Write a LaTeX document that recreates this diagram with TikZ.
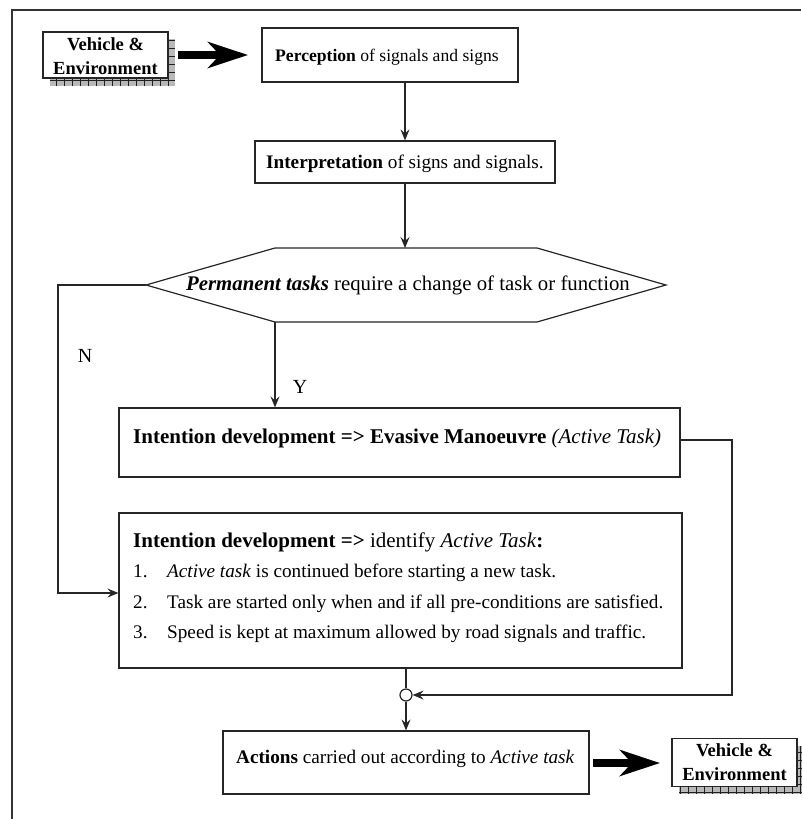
\documentclass[tikz,border=0pt]{standalone}
\usepackage{fontspec}
\setmainfont{Liberation Serif}
\usetikzlibrary{arrows.meta,calc}
\newcommand{\fsz}[1]{\fontsize{#1}{#1}\selectfont}
\begin{document}
\begin{tikzpicture}[x=1pt,y=-1pt,
  font=\fsz{19.2},
  box/.style={draw=black!85, line width=1.2pt, fill=white, inner sep=0pt, rectangle},
  txt/.style={anchor=base west, inner sep=0pt},
  ctxt/.style={anchor=base, inner sep=0pt, font=\fsz{18.5}\bfseries},
  arr/.style={draw=black!85, line width=1.2pt, -{Stealth[length=11pt,width=9pt,inset=4pt]}},
  link/.style={draw=black!85, line width=1.2pt},
  bigarr/.style={draw=black, line width=8pt, -{Stealth[length=40pt,width=26pt,inset=12pt]}},
  shadowfill/.style={fill=gray!55}
]
\useasboundingbox (0,0) rectangle (801,819);
% frame
\draw[black!80, line width=2pt] (12,819) -- (12,10) -- (801,10);

% Vehicle & Environment 1 with shadow
\fill[shadowfill] (50,39) rectangle (175,86);
\draw[gray!25!black, line width=0.4pt, step=8pt] (50,39) grid (175,86);
\node[box, minimum width=125pt, minimum height=46pt] (ve1) at (105.5,55) {};
\node[ctxt] (ve1a) at (105.5,50) {Vehicle \&};
\node[ctxt] (ve1b) at (105.5,74) {Environment};

% Perception
\node[box, minimum width=256pt, minimum height=54pt] (perc) at (390,55) {};
\node[txt, font=\fsz{17.6}] (perct) at (275,61) {\textbf{Perception} of signals and signs};

% Interpretation
\node[box, minimum width=300pt, minimum height=42pt] (interp) at (405,162) {};
\node[txt] (interpt) at (266,168) {\textbf{Interpretation} of signs and signals.};

% Hexagon
\coordinate (hexL) at (146,285);
\coordinate (hexTL) at (275,248);
\coordinate (hexT) at (405,248);
\coordinate (hexTR) at (537,248);
\coordinate (hexR) at (666,285);
\coordinate (hexBR) at (537,322);
\coordinate (hexBL) at (275,322);
\draw[link, fill=white] (hexL) -- (hexTL) -- (hexTR) -- (hexR) -- (hexBR) -- (hexBL) -- cycle;
\node[anchor=base, inner sep=0pt, font=\fsz{20.8}] (hext) at (408,290) {\textbf{\textit{Permanent tasks}} require a change of task or function};

% Intention 1
\node[box, minimum width=561pt, minimum height=69pt] (int1) at (399.5,442.5) {};
\node[txt, font=\fsz{21}] (int1t) at (133,443) {\textbf{Intention development => Evasive Manoeuvre} \textit{(Active Task)}};

% Intention 2
\node[box, minimum width=563pt, minimum height=155pt] (int2) at (400.5,590.5) {};
\node[txt, font=\fsz{21}] (int2h) at (133,547) {\textbf{Intention development =>} identify \textit{Active Task}\textbf{:}};
\node[txt] (i1n) at (133,577.5) {1.};
\node[txt] (i1t) at (167,577.5) {\textit{Active task} is continued before starting a new task.};
\node[txt] (i2n) at (133,608) {2.};
\node[txt] (i2t) at (167,608) {Task are started only when and if all pre-conditions are satisfied.};
\node[txt] (i3n) at (133,638.5) {3.};
\node[txt] (i3t) at (167,638.5) {Speed is kept at maximum allowed by road signals and traffic.};

% junction
\node[draw=black!85, line width=1.2pt, fill=white, circle, minimum size=12pt, inner sep=0pt] (junc) at (406,695) {};

% Actions
\node[box, minimum width=366pt, minimum height=63pt] (act) at (406,762.5) {};
\node[txt] (actt) at (236,763) {\textbf{Actions} carried out according to \textit{Active task}};

% Vehicle & Environment 2 with shadow
\fill[shadowfill] (679,746) rectangle (804,794);
\draw[gray!25!black, line width=0.4pt, step=8pt] (679,746) grid (804,794);
\node[box, minimum width=125pt, minimum height=48pt] (ve2) at (734.5,762.5) {};
\node[ctxt] (ve2a) at (734.5,756) {Vehicle \&};
\node[ctxt] (ve2b) at (734.5,780) {Environment};

% labels
\node[anchor=base, inner sep=0pt, font=\fsz{20}] (lN) at (85,362) {N};
\node[anchor=base, inner sep=0pt, font=\fsz{20}] (lY) at (300,393) {Y};

% connectors
\coordinate (cx) at (405,0);
\draw[bigarr] (178,55) -- (248,55);
\draw[arr] (perc.south -| cx) -- (interp.north -| cx);
\draw[arr] (interp.south -| cx) -- (hexT);
\draw[arr] (hexBL) -- (int1.north -| hexBL);
\coordinate (nturn) at (58,285);
\coordinate (nin) at (58,593);
\draw[arr] (hexL) -- (nturn) -- (nin) -- (int2.west |- nin);
\coordinate (rturn) at (732,440);
\draw[arr] (int1.east |- rturn) -- (rturn) |- (junc.east);
\draw[link] (int2.south -| junc) -- (junc.north);
\draw[arr] (junc.south) -- (act.north -| junc);
\draw[bigarr] (act.east |- 0,763) ++(3,0) -- (660,763);
\end{tikzpicture}
\end{document}
